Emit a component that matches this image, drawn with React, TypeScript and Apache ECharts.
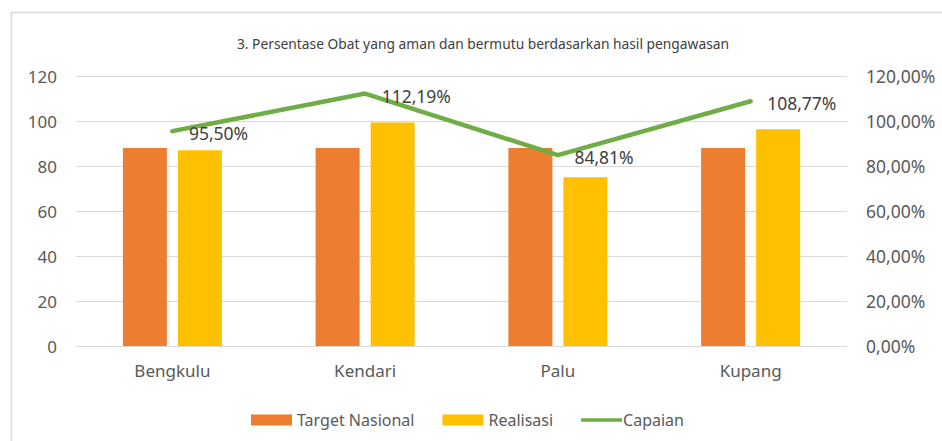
import React, { useEffect, useRef } from "react";
import * as echarts from "echarts";

const categories = ["Bengkulu", "Kendari", "Palu", "Kupang"];
const targetNasional = [88, 88, 88, 88];
const realisasi = [87, 99.3, 75, 96.3];
const capaian = [95.5, 112.19, 84.81, 108.77];
const leftTicks = [0, 20, 40, 60, 80, 100, 120];
const title = "3. Persentase Obat yang aman dan bermutu berdasarkan hasil pengawasan";

const FONT = "'Noto Sans', sans-serif";
const fmtPct = (v: number) => v.toFixed(2).replace(".", ",") + "%";

export default function App() {
  const ref = useRef<HTMLDivElement>(null);
  useEffect(() => {
    if (!ref.current) return;
    const chart = echarts.init(ref.current, undefined, { renderer: "svg" });
    chart.setOption({
      animation: false,
      backgroundColor: "#ffffff",
      textStyle: { fontFamily: FONT },
      title: {
        text: title,
        left: 478,
        top: 31,
        textAlign: "center",
        textStyle: { fontSize: 13.8, fontWeight: "normal", color: "#404040", fontFamily: FONT },
      },
      graphic: [
        {
          type: "polyline",
          shape: { points: [[11.5, 460], [11.5, 12.5], [960, 12.5]] },
          style: { stroke: "#d9d9d9", lineWidth: 1.5, fill: "none" },
          silent: true,
        },
      ],
      legend: {
        left: 246,
        top: 407,
        itemWidth: 41,
        itemHeight: 11,
        itemGap: 28,
        textStyle: { fontSize: 16, color: "#595959", fontFamily: FONT },
        data: [
          { name: "Target Nasional", icon: "rect" },
          { name: "Realisasi", icon: "rect" },
          {
            name: "Capaian",
            icon: "path://M0,0L0,0M0,11L0,11M0,3.5L44,3.5L44,7.5L0,7.5Z",
            textStyle: { padding: [0, 0, 0, -4] },
          },
        ],
      },
      grid: { left: 76, right: 95, top: 76, bottom: 95, containLabel: false },
      xAxis: {
        type: "category",
        data: categories,
        axisLine: { lineStyle: { color: "#d9d9d9", width: 1 } },
        axisTick: { show: false },
        axisLabel: { fontSize: 17, color: "#595959", margin: 16, fontFamily: FONT },
      },
      yAxis: [
        {
          type: "value",
          min: leftTicks[0],
          max: leftTicks[leftTicks.length - 1],
          interval: 20,
          axisLine: { show: false },
          axisTick: { show: false },
          splitLine: { lineStyle: { color: "#d9d9d9", width: 1 } },
          axisLabel: { fontSize: 17, color: "#595959", margin: 19, fontFamily: FONT },
        },
        {
          type: "value",
          min: 0,
          max: 120,
          interval: 20,
          axisLine: { show: false },
          axisTick: { show: false },
          splitLine: { show: false },
          axisLabel: {
            fontSize: 17.5,
            color: "#595959",
            margin: 19,
            fontFamily: FONT,
            formatter: (v: number) => fmtPct(v),
          },
        },
      ],
      series: [
        {
          name: "Target Nasional",
          type: "bar",
          data: targetNasional,
          barWidth: 44,
          barGap: "25%",
          itemStyle: { color: "#ED7D31" },
        },
        {
          name: "Realisasi",
          type: "bar",
          data: realisasi,
          barWidth: 44,
          barGap: "25%",
          itemStyle: { color: "#FFC000" },
        },
        {
          name: "Capaian",
          type: "line",
          yAxisIndex: 1,
          data: capaian,
          symbol: "circle",
          symbolSize: 1,
          itemStyle: { color: "#70AD47" },
          lineStyle: { color: "#70AD47", width: 4.5, cap: "round" },
          label: {
            show: true,
            position: "right",
            distance: 16,
            offset: [0, 2],
            fontSize: 17.5,
            color: "#404040",
            fontFamily: FONT,
            formatter: (p: any) => fmtPct(p.value),
          },
        },
      ],
    });
    return () => chart.dispose();
  }, []);
  return (
    <div
      ref={ref}
      style={{ position: "fixed", left: 0, top: 0, width: 942, height: 441 }}
    />
  );
}
